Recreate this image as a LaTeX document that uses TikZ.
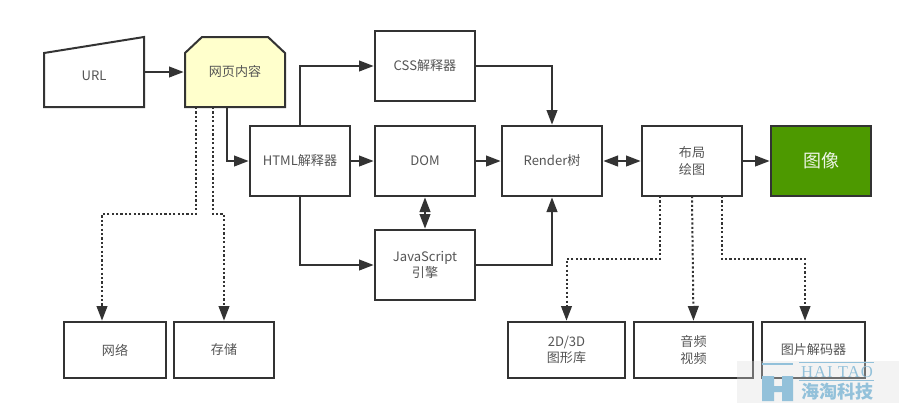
\documentclass[tikz,border=0pt]{standalone}
\usepackage{fontspec}
\setmainfont{Noto Sans CJK SC}
\newfontfamily\wmserif[LetterSpace=6]{Liberation Serif}
\usetikzlibrary{arrows.meta,calc}
\definecolor{ink}{HTML}{333333}
\definecolor{label}{HTML}{555555}
\definecolor{paleyellow}{HTML}{FFFFCC}
\definecolor{leaf}{HTML}{4D9900}
\definecolor{wmblue}{HTML}{93C1DA}
\tikzset{
  x=0.75pt,y=-0.75pt,
  every node/.style={font=\fontsize{9.8pt}{12.5pt}\selectfont,text=label,align=center,outer sep=0pt,inner sep=0pt},
  boxnode/.style={draw=ink,line width=1.5pt,fill=white,rectangle},
  mainbox/.style={boxnode,minimum width=75pt,minimum height=52.5pt},
  lowbox/.style={boxnode,minimum height=42pt},
  link/.style={draw=ink,line width=1.5pt,shorten >=1pt,-{Triangle[length=11pt,width=8pt]}},
  biglink/.style={draw=ink,line width=1.5pt,shorten >=1pt,shorten <=1pt,{Triangle[length=11pt,width=8pt]}-{Triangle[length=11pt,width=8pt]}},
  dotlink/.style={draw=ink,line width=1.5pt,dash pattern=on 1.6pt off 1.7pt,shorten >=1pt,-{Triangle[length=11pt,width=8pt]}},
  outlinepoly/.style={draw=ink,line width=1.5pt,line join=miter},
}
\begin{document}
\begin{tikzpicture}
\useasboundingbox (0,0) rectangle (909,408);
\fill[white] (0,0) rectangle (909,408);
% polygon shapes
\draw[outlinepoly,fill=white] (44,53) -- (144,37) -- (144,107) -- (44,107) -- cycle;
\draw[outlinepoly,fill=paleyellow] (202,37) -- (268,37) -- (285,53) -- (285,107) -- (185,107) -- (185,53) -- cycle;
\node[minimum width=75pt,minimum height=52.5pt] (url) at (94,72) {};
\node (urltext) at (94,76) {URL};
\node[minimum width=75pt,minimum height=52.5pt] (web) at (235,72) {};
\node (webtext) at (235,72) {网页内容};
% boxes
\node[mainbox] (html) at (300,161) {HTML解释器};
\node[mainbox] (css) at (425,66) {CSS解释器};
\node[mainbox] (dom) at (425,161) {DOM};
\node[mainbox] (js) at (425,265) {JavaScript\\引擎};
\node[mainbox] (render) at (552,161) {Render树};
\node[mainbox] (layout) at (692,161) {布局\\绘图};
\node[mainbox,fill=leaf,text=white!90!leaf,font=\fontsize{13.5pt}{16pt}\selectfont] (image) at (821,161) {图像};
\node[lowbox,minimum width=76.5pt] (net) at (115,350) {网络};
\node[lowbox,minimum width=75pt] (store) at (224,350) {存储};
\node[lowbox,minimum width=87.75pt] (gfx) at (566.5,350) {2D/3D\\图形库};
\node[lowbox,minimum width=89.25pt] (media) at (693.5,350) {音频\\视频};
\node[lowbox,minimum width=77.25pt] (decode) at (813.5,350) {图片解码器};
% solid connectors
\coordinate (webdown) at (227,107);
\draw[link] (url.east) -- (web.west);
\draw[link] (webdown) |- (html.west);
\draw[link] (html.north) |- (css.west);
\draw[link] (html.east) -- (dom.west);
\draw[link] (html.south) |- (js.west);
\draw[link] (css.east) -| (render.north);
\draw[link] (dom.east) -- (render.west);
\draw[link] (js.east) -| (render.south);
\draw[biglink] (dom.south) -- (js.north);
\draw[biglink] (render.east) -- (layout.west);
\draw[link] (layout.east) -- (image.west);
% dotted connectors
\coordinate (webdotA) at (196,107);
\coordinate (webdotB) at (213,107);
\coordinate (netin) at (102,322);
\coordinate (storein) at (224,322);
\coordinate (laydotA) at (660,196);
\coordinate (laydotB) at (692,196);
\coordinate (laydotC) at (722,196);
\coordinate (decodein) at (805,322);
\draw[dotlink] (webdotA) -- (196,214) -| (netin);
\draw[dotlink] (webdotB) -- (213,214) -| (storein);
\draw[dotlink] (laydotA) -- (660,259) -| (gfx.north);
\draw[dotlink] (laydotB) -- (media.north);
\draw[dotlink] (laydotC) -- (722,259) -| (decodein);
% watermark
\fill[gray!25,opacity=.35] (737,361) rectangle (899,403);
\fill[wmblue] (762,363) rectangle (793,365);
\fill[wmblue] (762,376) rectangle (774,401) (782,376) rectangle (793,401) (774,386) rectangle (782,392);
\draw[wmblue,line width=.5pt] (799,362) -- (874,362) (799,380) -- (874,380);
\node[text=wmblue,font=\wmserif\fontsize{12.5pt}{13pt}\selectfont] (wmen) at (837,372.5) {HAI TAO};
\node[text=wmblue,font=\bfseries\fontsize{13.5pt}{14pt}\selectfont] (wmcn) at (837,392) {海淘科技};
\end{tikzpicture}
\end{document}
